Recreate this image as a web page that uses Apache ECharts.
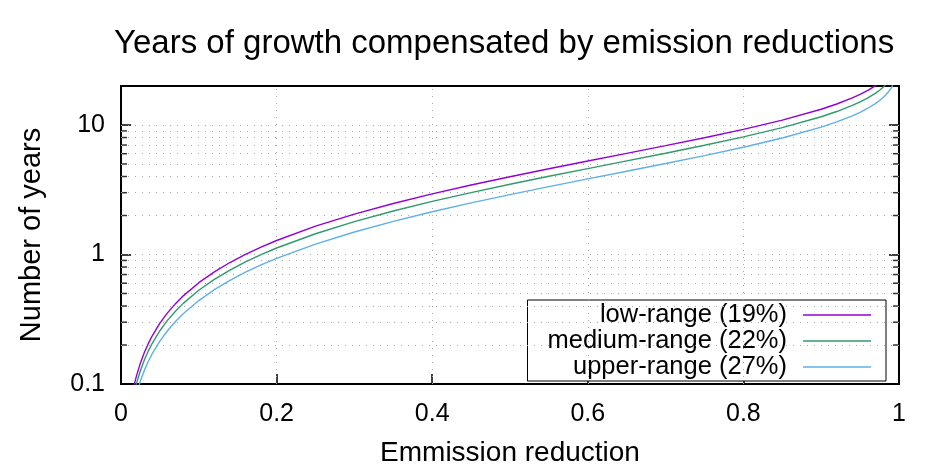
<!DOCTYPE html>
<html>
<head>
<meta charset="utf-8">
<script src="https://cdn.jsdelivr.net/npm/echarts@6/dist/echarts.min.js"></script>
<style>html,body{margin:0;padding:0;background:#fff}#chart{width:944px;height:472px}</style>
</head>
<body>
<div id="chart"></div>
<script>
const reduction = [0.015, 0.0175, 0.02, 0.025, 0.03, 0.035, 0.04, 0.05, 0.06, 0.07, 0.08, 0.1, 0.12, 0.14, 0.16, 0.18, 0.2, 0.25, 0.3, 0.35, 0.4, 0.45, 0.5, 0.55, 0.6, 0.65, 0.7, 0.75, 0.8, 0.85, 0.9, 0.92, 0.94, 0.95, 0.96, 0.97, 0.975, 0.98, 0.985, 0.99, 0.995];
const lowRange = [0.0869, 0.1015, 0.1161, 0.1455, 0.1751, 0.2048, 0.2347, 0.2949, 0.3557, 0.4172, 0.4793, 0.6057, 0.7349, 0.8670, 1.0023, 1.1409, 1.2828, 1.6538, 2.0505, 2.4764, 2.9366, 3.4368, 3.9847, 4.5905, 5.2676, 6.0352, 6.9214, 7.9695, 9.2523, 10.906, 13.237, 14.520, 16.174, 17.222, 18.505, 20.158, 21.206, 22.49, 24.14, 26.47, 30.46];
const mediumRange = [0.0760, 0.0888, 0.1016, 0.1273, 0.1532, 0.1792, 0.2053, 0.2579, 0.3112, 0.3650, 0.4193, 0.5299, 0.6429, 0.7585, 0.8768, 0.9980, 1.1222, 1.4467, 1.7937, 2.1664, 2.5689, 3.0065, 3.4858, 4.0156, 4.6080, 5.2795, 6.0547, 6.9716, 8.0937, 9.5405, 11.580, 12.702, 14.148, 15.065, 16.187, 17.634, 18.551, 19.673, 21.120, 23.159, 26.64];
const upperRange = [0.0632, 0.0739, 0.0845, 0.1059, 0.1274, 0.1491, 0.1708, 0.2146, 0.2589, 0.3036, 0.3489, 0.4408, 0.5348, 0.6310, 0.7294, 0.8303, 0.9336, 1.2036, 1.4922, 1.8023, 2.1372, 2.5012, 2.8999, 3.3408, 3.8336, 4.3922, 5.0371, 5.7999, 6.7335, 7.9371, 9.6334, 10.567, 11.771, 12.533, 13.467, 14.670, 15.433, 16.367, 17.570, 19.267, 22.17];
const seriesNames = ['low-range (19%)', 'medium-range (22%)', 'upper-range (27%)'];
const yMajorLabels = [0.1, 1, 10];
const yMinorTicks = [0.2, 0.3, 0.4, 0.5, 0.6, 0.7, 0.8, 0.9, 2, 3, 4, 5, 6, 7, 8, 9];
const yGridLines = [0.2, 0.3, 0.4, 0.5, 0.6, 0.7, 0.8, 0.9, 1, 2, 3, 4, 5, 6, 7, 8, 9, 10];
const xGridLines = [0.2, 0.4, 0.6, 0.8];

const FONT = 'Liberation Sans';
const colors = ['#9400d3', '#2f9a6c', '#5fb0e6'];
const valuesList = [lowRange, mediumRange, upperRange];

const chart = echarts.init(document.getElementById('chart'), null, {renderer: 'canvas'});

const lineSeries = seriesNames.map((name, k) => ({
  name: name,
  type: 'line',
  data: reduction.map((x, i) => [x, valuesList[k][i]]),
  showSymbol: false,
  symbol: 'none',
  clip: true,
  z: 5,
  color: colors[k],
  lineStyle: {color: colors[k], width: 1.4},
  animation: false
}));

const gridLineData = yGridLines.map(v => ({yAxis: v})).concat(xGridLines.map(v => ({xAxis: v})));

const option = {
  backgroundColor: '#fff',
  animation: false,
  title: {
    text: 'Years of growth compensated by emission reductions',
    left: 114, top: 27, padding: 0,
    textStyle: {fontFamily: FONT, fontSize: 33, fontWeight: 'normal', color: '#000'}
  },
  grid: {left: 121, right: 45, top: 86, bottom: 84, show: true, borderColor: '#000', borderWidth: 2, containLabel: false},
  legend: {
    data: seriesNames,
    orient: 'vertical',
    align: 'right',
    right: 58, top: 300,
    padding: [2, 15, 1, 20],
    itemGap: 0,
    itemWidth: 68, itemHeight: 1.5,
    icon: 'rect',
    itemStyle: {borderWidth: 0},
    backgroundColor: '#fff',
    borderColor: '#000', borderWidth: 1,
    textStyle: {fontFamily: FONT, fontSize: 25.5, lineHeight: 24, color: '#000', padding: [0, 11, 0, 0]}
  },
  xAxis: {
    type: 'value', min: 0, max: 1, interval: 0.2,
    name: 'Emmission reduction', nameLocation: 'middle', nameGap: 55,
    nameTextStyle: {fontFamily: FONT, fontSize: 28, color: '#000'},
    axisLine: {show: false},
    axisTick: {show: true, inside: true, length: 10, lineStyle: {color: '#000', width: 1.5}},
    axisLabel: {fontFamily: FONT, fontSize: 25, color: '#000', margin: 18},
    splitLine: {show: false}
  },
  yAxis: [{
    type: 'log', logBase: 10, min: 0.1, max: 20,
    name: 'Number of years', nameLocation: 'middle', nameGap: 75,
    nameTextStyle: {fontFamily: FONT, fontSize: 29, color: '#000'},
    axisLine: {show: false},
    axisTick: {show: true, inside: true, length: 10, lineStyle: {color: '#000', width: 1.5}},
    axisLabel: {
      fontFamily: FONT, fontSize: 25, color: '#000', margin: 16,
      showMaxLabel: false,
      formatter: v => (yMajorLabels.some(m => Math.abs(m - v) < 1e-9) ? String(v) : '')
    },
    splitLine: {show: false}
  }, {
    type: 'log', logBase: 10, min: 0.1, max: 20, position: 'right',
    axisLine: {show: false},
    axisTick: {show: true, inside: true, length: 10, lineStyle: {color: '#000', width: 1.5}},
    axisLabel: {show: false},
    splitLine: {show: false}
  }],
  series: [
    {
      type: 'scatter', name: 'minor-left', silent: true, clip: false, z: 2,
      data: yMinorTicks.map(v => [0, v]),
      symbol: 'rect', symbolSize: [6, 1.5], symbolOffset: [3, 0],
      itemStyle: {color: '#000'},
      markLine: {
        silent: true, symbol: ['none', 'none'], animation: false,
        label: {show: false},
        lineStyle: {color: '#a8a8a8', type: [1, 6], width: 1},
        data: gridLineData
      }
    },
    {
      type: 'scatter', name: 'minor-right', silent: true, clip: false, z: 2,
      data: yMinorTicks.map(v => [1, v]),
      symbol: 'rect', symbolSize: [6, 1.5], symbolOffset: [-3, 0],
      itemStyle: {color: '#000'}
    }
  ].concat(lineSeries)
};
chart.setOption(option);
</script>
</body>
</html>
